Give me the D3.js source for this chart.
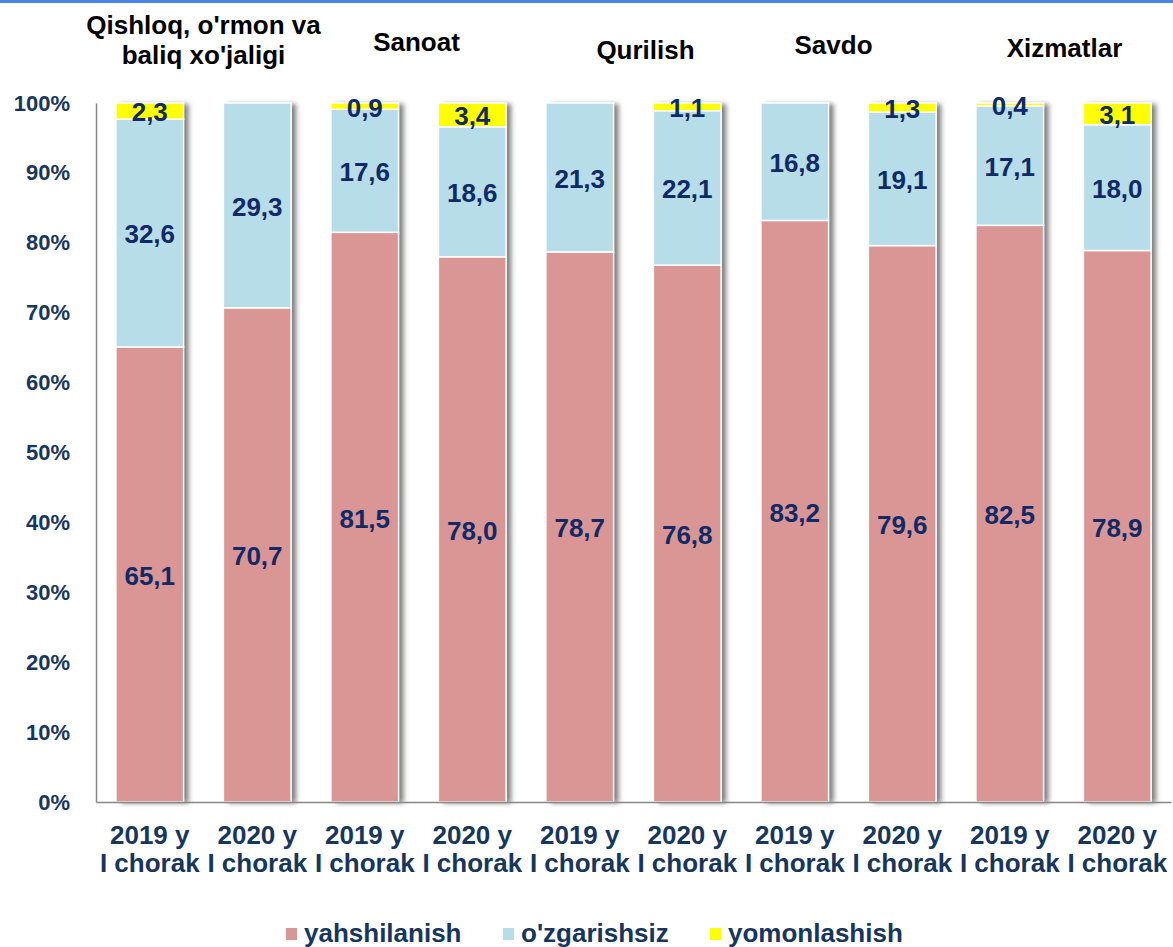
<!DOCTYPE html>
<html>
<head>
<meta charset="utf-8">
<script src="https://cdn.jsdelivr.net/npm/d3@7"></script>
<style>
  body { margin: 0; background: #fff; }
  svg { display: block; font-family: "Liberation Sans", Arial, sans-serif; font-weight: bold; }
</style>
</head>
<body>
<div id="chart"></div>
<script>
// categories on the x axis
var periods = ["2019 y|I chorak", "2020 y|I chorak", "2019 y|I chorak", "2020 y|I chorak", "2019 y|I chorak",
               "2020 y|I chorak", "2019 y|I chorak", "2020 y|I chorak", "2019 y|I chorak", "2020 y|I chorak"];
var sectors = ["Qishloq, o'rmon va|baliq xo'jaligi", "Sanoat", "Qurilish", "Savdo", "Xizmatlar"];

// series values (percent)
var yahshilanish = [65.1, 70.7, 81.5, 78.0, 78.7, 76.8, 83.2, 79.6, 82.5, 78.9];
var ozgarishsiz  = [32.6, 29.3, 17.6, 18.6, 21.3, 22.1, 16.8, 19.1, 17.1, 18.0];
var yomonlashish = [2.3, 0, 0.9, 3.4, 0, 1.1, 0, 1.3, 0.4, 3.1];

var seriesNames = ["yahshilanish", "o'zgarishsiz", "yomonlashish"];
var ticks = [0, 10, 20, 30, 40, 50, 60, 70, 80, 90, 100];

var colors = ["#d99694", "#b7dde8", "#ffff00"];
var navy = "#17365d";

var width = 1173, height = 947;
var margin = {top: 103, left: 96, right: 2, bottom: 145};

var svg = d3.select("#chart").append("svg")
  .attr("width", width)
  .attr("height", height);

// top blue border
svg.append("rect")
  .attr("x", 0).attr("y", 0)
  .attr("width", width).attr("height", 3)
  .attr("fill", "#4a86e8");

var defs = svg.append("defs");
var filter = defs.append("filter")
  .attr("id", "shadow")
  .attr("x", "-10%").attr("y", "-2%")
  .attr("width", "130%").attr("height", "104%");
filter.append("feDropShadow")
  .attr("dx", 5).attr("dy", 1)
  .attr("stdDeviation", 2.5)
  .attr("flood-color", "#000")
  .attr("flood-opacity", 0.5);

var x = d3.scaleBand()
  .domain(d3.range(periods.length))
  .range([margin.left, width - margin.right])
  .paddingInner(0.37)
  .paddingOuter(0.185);

var y = d3.scaleLinear()
  .domain([0, 100])
  .range([height - margin.bottom, margin.top]);

// stack data
var rows = periods.map(function(p, i) {
  return {i: i, a: yahshilanish[i], b: ozgarishsiz[i], c: yomonlashish[i]};
});
var stack = d3.stack().keys(["a", "b", "c"]);
var layers = stack(rows);

// shadow behind whole bars
svg.append("g")
  .selectAll("rect")
  .data(rows)
  .enter().append("rect")
  .attr("x", function(d) { return x(d.i); })
  .attr("y", function(d) { return y(d.a + d.b + d.c); })
  .attr("width", x.bandwidth())
  .attr("height", function(d) { return y(0) - y(d.a + d.b + d.c); })
  .attr("fill", "#fff")
  .attr("filter", "url(#shadow)");

var layerG = svg.append("g")
  .selectAll("g")
  .data(layers)
  .enter().append("g")
  .attr("fill", function(d, i) { return colors[i]; });

layerG.selectAll("rect")
  .data(function(d) { return d; })
  .enter().append("rect")
  .attr("x", function(d) { return x(d.data.i); })
  .attr("y", function(d) { return y(d[1]); })
  .attr("width", x.bandwidth())
  .attr("height", function(d) { return Math.max(0, y(d[0]) - y(d[1])); })
  .attr("stroke", "#fff")
  .attr("stroke-width", 1.5);

// value labels
var fmt = function(v) { return v.toFixed(1).replace(".", ","); };
layerG.selectAll("text")
  .data(function(d) { return d.filter(function(s) { return s[1] - s[0] > 0; }); })
  .enter().append("text")
  .attr("x", function(d) { return x(d.data.i) + x.bandwidth() / 2; })
  .attr("y", function(d) { return (y(d[0]) + y(d[1])) / 2; })
  .attr("dy", "0.4em")
  .attr("text-anchor", "middle")
  .attr("fill", "#0f2a66")
  .attr("font-size", 26)
  .attr("font-weight", "bold")
  .text(function(d) { return fmt(d[1] - d[0]); });

// axes
var yAxis = svg.append("g")
  .attr("transform", "translate(" + margin.left + ",0)")
  .call(d3.axisLeft(y).tickValues(ticks).tickSize(0).tickPadding(26)
    .tickFormat(function(d) { return d + "%"; }));
yAxis.select(".domain").attr("stroke", "#868686").attr("stroke-width", 1.5);
yAxis.selectAll("text")
  .attr("font-size", 22)
  .attr("font-family", "Liberation Sans, Arial, sans-serif")
  .attr("font-weight", "bold")
  .attr("fill", navy);

var xAxis = svg.append("g")
  .attr("transform", "translate(0," + y(0) + ")")
  .call(d3.axisBottom(x).tickSize(0).tickFormat(""));
xAxis.select(".domain").attr("stroke", "#868686").attr("stroke-width", 1.5);

xAxis.selectAll(".tick").each(function(d) {
  var parts = periods[d].split("|");
  var t = d3.select(this).append("text")
    .attr("text-anchor", "middle")
    .attr("fill", navy)
    .attr("font-size", 26)
    .attr("font-family", "Liberation Sans, Arial, sans-serif")
    .attr("font-weight", "bold");
  t.append("tspan").attr("x", 0).attr("y", 42).text(parts[0]);
  t.append("tspan").attr("x", 0).attr("y", 70).text(parts[1]);
});

// sector titles above pairs of bars
var titleShift = [{dx: 0, y: 34}, {dx: -2, y: 51}, {dx: 12, y: 59}, {dx: -15, y: 54}, {dx: 1, y: 57}];
sectors.forEach(function(s, k) {
  var cx = (x(2 * k) + x(2 * k + 1) + x.bandwidth()) / 2 + titleShift[k].dx;
  var lines = s.split("|");
  var t = svg.append("text")
    .attr("text-anchor", "middle")
    .attr("fill", "#000")
    .attr("font-weight", "bold")
    .attr("font-size", 26);
  lines.forEach(function(l, j) {
    t.append("tspan").attr("x", cx).attr("y", titleShift[k].y + j * 30).text(l);
  });
});

// legend
var legendX = [286, 503, 710];
var legend = svg.append("g")
  .selectAll("g")
  .data(seriesNames)
  .enter().append("g")
  .attr("transform", function(d, i) { return "translate(" + legendX[i] + ",928)"; });
legend.append("rect")
  .attr("x", 0).attr("y", 0)
  .attr("width", 11).attr("height", 12)
  .attr("fill", function(d, i) { return colors[i]; });
legend.append("text")
  .attr("x", 18)
  .attr("y", 14)
  .attr("fill", navy)
  .attr("font-size", 26)
  .attr("font-family", "Liberation Sans, Arial, sans-serif")
  .attr("font-weight", "bold")
  .text(function(d) { return d; });
</script>
</body>
</html>
